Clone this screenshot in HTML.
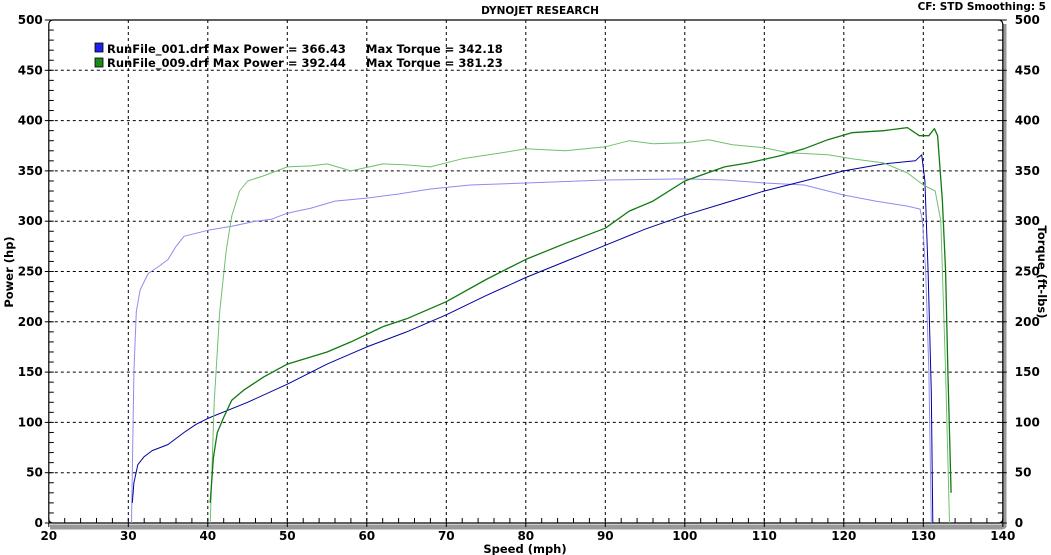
<!DOCTYPE html>
<html><head><meta charset="utf-8"><style>
html,body{margin:0;padding:0;background:#fff;}
svg{display:block;font-family:Tahoma,"DejaVu Sans","Liberation Sans",sans-serif;font-weight:bold;}
</style></head><body>
<svg id="c" width="1051" height="555" viewBox="0 0 1051 555" xmlns="http://www.w3.org/2000/svg">
<text x="540" y="14" font-size="10.5" text-anchor="middle" fill="#000">DYNOJET RESEARCH</text>
<text x="1046" y="10" font-size="10.5" text-anchor="end" fill="#000">CF: STD  Smoothing: 5</text>
<text x="525" y="553" font-size="11.5" text-anchor="middle" fill="#000">Speed (mph)</text>
<text transform="translate(13,272) rotate(-90)" font-size="11.5" text-anchor="middle">Power (hp)</text>
<text transform="translate(1038,272) rotate(90)" font-size="11.5" text-anchor="middle">Torque (ft-lbs)</text>
<g id="grid"></g>
<g id="series"></g>
<rect x="95" y="43" width="8" height="9" fill="#2020ee" stroke="#000" stroke-width="0.8"/>
<rect x="95" y="58" width="8" height="9" fill="#1a8a1a" stroke="#000" stroke-width="0.8"/>
<text x="107" y="53" font-size="11.5">RunFile_001.drf Max Power = 366.43</text>
<text x="366" y="53" font-size="11.5">Max Torque = 342.18</text>
<text x="107" y="67" font-size="11.5">RunFile_009.drf Max Power = 392.44</text>
<text x="366" y="67" font-size="11.5">Max Torque = 381.23</text>
</svg>
<script>
const NS="http://www.w3.org/2000/svg";
const X=s=>128.3+(s-30)*7.95, Y=v=>523-v*1.006;
const g=document.getElementById('grid'), sr=document.getElementById('series');
function el(p,t,a){const e=document.createElementNS(NS,t);for(const k in a)e.setAttribute(k,a[k]);p.appendChild(e);return e;}
el(g,'path',{d:`M1004 24 V526 Q1004 527 1000 527 H50`,stroke:'#999',fill:'none','stroke-width':5});
el(g,'rect',{x:X(20),y:Y(500),width:X(140)-X(20),height:Y(0)-Y(500),rx:4,fill:'#fff',stroke:'#000','stroke-width':1.2});
for(let s=30;s<140;s+=10)el(g,'line',{x1:X(s),x2:X(s),y1:Y(500),y2:Y(0),stroke:'#000','stroke-dasharray':'3,3','stroke-width':1});
for(let v=50;v<500;v+=50)el(g,'line',{x1:X(20),x2:X(140),y1:Y(v),y2:Y(v),stroke:'#000','stroke-dasharray':'3,3','stroke-width':1});
for(let v=0;v<=500;v+=10){const m=v%50==0;
 el(g,'line',{x1:X(20)-(m?4:0),x2:X(20)+5,y1:Y(v),y2:Y(v),stroke:'#000'});
 el(g,'line',{x1:X(140)-5,x2:X(140)+(m?4:0),y1:Y(v),y2:Y(v),stroke:'#000'});
 if(m){const t=el(g,'text',{x:X(20)-6,y:Y(v)+4,'font-size':12,'text-anchor':'end'});t.textContent=v;
 const t2=el(g,'text',{x:X(140)+12,y:Y(v)+4,'font-size':12});t2.textContent=v;}}
for(let s=20;s<=140;s+=2){const m=s%10==0;
 el(g,'line',{x1:X(s),x2:X(s),y1:Y(0)-5,y2:Y(0)+(m?4:0),stroke:'#000'});
 if(m){const t=el(g,'text',{x:X(s),y:Y(0)+17,'font-size':12,'text-anchor':'middle'});t.textContent=s;}}
function line(pts,col,w,extra){let d=pts.map(p=>X(p[0]).toFixed(1)+','+Y(p[1]).toFixed(1)).join(' ');
 const a={points:d,fill:'none',stroke:col,'stroke-width':w||1,'stroke-linejoin':'round'};Object.assign(a,extra||{});el(sr,'polyline',a);}
line([[30.4,0],[30.7,150],[31,210],[31.5,232],[32.5,248],[34,256],[35,262],[36,275],[37,285],[38.5,288],[40,291],[43,295],[46,300],[48,302],[50,308],[53,313],[56,320],[60,323],[64,327],[68,332],[73,336],[80,338],[90,341],[100,342],[105,341],[110,338],[115,336],[120,326],[124,320],[128,315],[129.6,312],[129.9,300],[130.3,250],[130.7,150],[131,0]],'#8d8df0',1);
line([[30.5,20],[30.7,40],[31.2,58],[32,66],[33,72],[35,78],[37,90],[38.5,98],[40,104],[45,120],[50,138],[55,158],[60,175],[65,190],[70,207],[75,226],[80,244],[85,260],[90,276],[95,292],[100,306],[105,318],[110,330],[115,340],[120,350],[125,357],[129,360],[129.8,366],[130.2,340],[130.6,250],[131,130],[131.2,0]],'#0000a0',1);
line([[40.3,0],[40.8,120],[41.5,210],[42.3,270],[43,305],[44,330],[45,340],[47,345],[50,354],[53,355],[55,357],[58,350],[62,357],[65,356],[68,354],[72,362],[77,368],[80,372],[85,370],[90,374],[93,380],[96,377],[100,378],[103,381],[106,376],[110,373],[113,368],[118,366],[121,362],[125,358],[128,348],[130,336],[131.5,330],[132.2,300],[132.8,150],[133.3,0]],'#70c070',1);
line([[40.3,20],[40.7,65],[41.2,90],[42,105],[43,122],[44.5,132],[47,145],[50,158],[55,170],[58,180],[62,195],[65,203],[70,220],[75,242],[80,262],[85,278],[90,293],[93,310],[96,320],[100,340],[105,354],[108,358],[112,365],[115,372],[118,381],[121,388],[125,390],[128,393],[129.5,385],[130.7,385],[131.4,392],[131.8,385],[132.4,320],[132.8,250],[133.1,150],[133.3,90],[133.5,30]],'#107a10',1.3);
</script>
</body></html>
